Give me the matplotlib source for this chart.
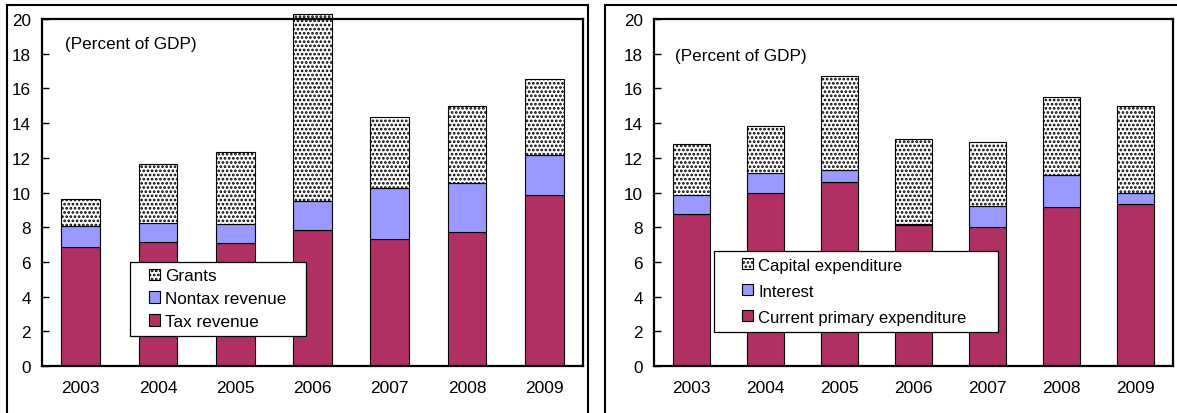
import matplotlib
matplotlib.use("Agg")
import matplotlib.pyplot as plt
from matplotlib.patches import Rectangle
import numpy as np

plt.rcParams['font.family'] = ['Liberation Sans', 'DejaVu Sans']
plt.rcParams['hatch.linewidth'] = 1.3

years = ['2003', '2004', '2005', '2006', '2007', '2008', '2009']

# Revenue (percent of GDP)
tax_revenue = [6.83, 7.17, 7.10, 7.85, 7.31, 7.75, 9.88]
nontax_revenue = [1.25, 1.10, 1.09, 1.65, 2.94, 2.77, 2.31]
grants = [1.54, 3.40, 4.16, 10.80, 4.13, 4.44, 4.35]

# Expenditure (percent of GDP)
current_primary = [8.77, 9.96, 10.62, 8.13, 8.03, 9.15, 9.33]
interest = [1.06, 1.16, 0.67, 0.06, 1.22, 1.85, 0.63]
capital = [2.96, 2.71, 5.43, 4.89, 3.66, 4.51, 5.05]

maroon = '#B03063'
lavender = '#9999FF'

fig = plt.figure(figsize=(11.77, 4.14), dpi=100)

# outer panel frames
fig.patches.append(Rectangle((7/1177, -0.2), 581/1177, 1.2 - 6/414, transform=fig.transFigure,
                             fill=False, edgecolor='black', linewidth=1.5, zorder=0))
fig.patches.append(Rectangle((605/1177, -0.2), 0.6, 1.2 - 6/414, transform=fig.transFigure,
                             fill=False, edgecolor='black', linewidth=1.5, zorder=0))


def panel(rect, bottom_vals, mid_vals, top_vals, labels, leg_anchor, leg_box, txt_pos, lspace, legsize):
    ax = fig.add_axes(rect)
    x = np.arange(len(years))
    b1 = np.array(bottom_vals)
    b2 = b1 + np.array(mid_vals)
    ax.bar(x, bottom_vals, 0.5, color=maroon, edgecolor='black', linewidth=0.8, label=labels[2])
    ax.bar(x, mid_vals, 0.5, bottom=b1, color=lavender, edgecolor='black', linewidth=0.8, label=labels[1])
    ax.bar(x, top_vals, 0.5, bottom=b2, color='white', edgecolor='black', linewidth=0.8,
           hatch='....', label=labels[0], clip_on=False)
    ax.set_xlim(-0.5, 6.5)
    ax.set_ylim(0, 20)
    ax.set_yticks(range(0, 21, 2))
    ax.set_xticks(x)
    ax.set_xticklabels(years)
    ax.tick_params(axis='y', direction='in', length=5, width=1, labelsize=12.3, pad=8)
    ax.tick_params(axis='x', length=0, labelsize=12.5, pad=10)
    for s in ax.spines.values():
        s.set_linewidth(1.6)
    ax.text(txt_pos[0], txt_pos[1], '(Percent of GDP)', transform=ax.transAxes,
            fontsize=12.3, va='center', ha='left')
    # legend box
    ax.add_patch(Rectangle((leg_box[0], leg_box[1]), leg_box[2] - leg_box[0], leg_box[3] - leg_box[1],
                           transform=ax.transAxes, facecolor='white', edgecolor='black',
                           linewidth=0.9, zorder=4, clip_on=False))
    h, l = ax.get_legend_handles_labels()
    leg = ax.legend(h[::-1], l[::-1], loc='upper left', bbox_to_anchor=leg_anchor,
                    frameon=False, borderpad=0, borderaxespad=0, fontsize=legsize,
                    handlelength=0.65, handleheight=0.65, handletextpad=0.3,
                    labelspacing=lspace)
    leg.set_zorder(5)
    return ax


panel([42/1177, 1 - 367/414, 541/1177, 347/414], tax_revenue, nontax_revenue, grants,
      ['Grants', 'Nontax revenue', 'Tax revenue'],
      (0.198, 0.281), (0.163, 0.086, 0.488, 0.30), (0.0425, 0.928), 0.45, 12.3)

panel([654/1177, 1 - 367/414, 519/1177, 347/414], current_primary, interest, capital,
      ['Capital expenditure', 'Interest', 'Current primary expenditure'],
      (0.170, 0.312), (0.1156, 0.098, 0.663, 0.331), (0.04, 0.896), 0.66, 12.0)

fig.savefig('out.png', dpi=100)
